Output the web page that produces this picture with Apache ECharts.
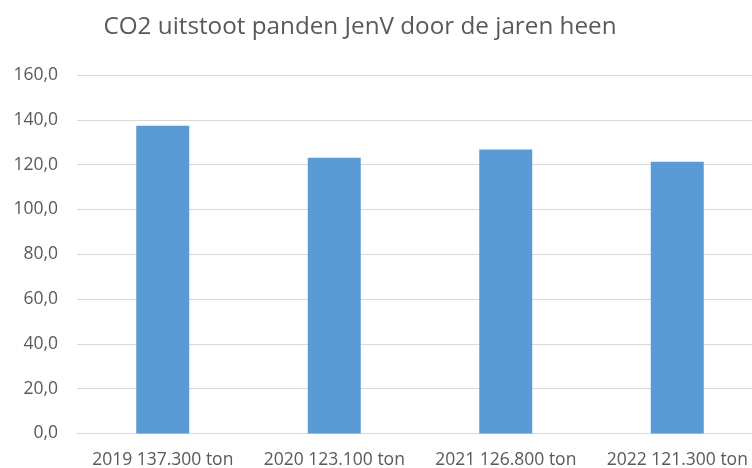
<!DOCTYPE html>
<html><head><meta charset="utf-8">
<script src="https://cdn.jsdelivr.net/npm/echarts@6/dist/echarts.min.js"></script>
<style>html,body{margin:0;padding:0;background:#fff}#c{width:752px;height:468px}</style>
</head><body><div id="c"></div>
<script>
const categories = ['2019 137.300 ton', '2020 123.100 ton', '2021 126.800 ton', '2022 121.300 ton'];
const values = [137.3, 123.1, 126.8, 121.3];
const yTicks = [0, 20, 40, 60, 80, 100, 120, 140, 160];
const titleText = 'CO2 uitstoot panden JenV door de jaren heen';

const chart = echarts.init(document.getElementById('c'), null, {renderer: 'canvas'});
chart.setOption({
  animation: false,
  title: {
    text: titleText, left: 355, top: 10, textAlign: 'center',
    textStyle: {fontFamily: 'Open Sans', fontSize: 24.25, fontWeight: 'normal', color: '#595959'}
  },
  grid: {left: 77, top: 75, right: -11, bottom: 34.5, outerBoundsMode: 'none'},
  xAxis: {
    type: 'category', data: categories,
    axisLine: {lineStyle: {color: '#d9d9d9', width: 1}},
    axisTick: {show: false},
    axisLabel: {color: '#595959', fontFamily: 'Open Sans', fontSize: 17.5, margin: 18, interval: 0}
  },
  yAxis: {
    type: 'value', min: yTicks[0], max: yTicks[yTicks.length - 1], interval: 20,
    axisLine: {show: false}, axisTick: {show: false},
    splitLine: {lineStyle: {color: '#d9d9d9', width: 1}},
    axisLabel: {color: '#595959', fontFamily: 'Open Sans', fontSize: 17.5, margin: 19,
      formatter: v => v.toFixed(1).replace('.', ',')}
  },
  series: [{
    type: 'bar', data: values, barWidth: 53,
    itemStyle: {color: '#5B9BD5'}
  }]
});
</script></body></html>
